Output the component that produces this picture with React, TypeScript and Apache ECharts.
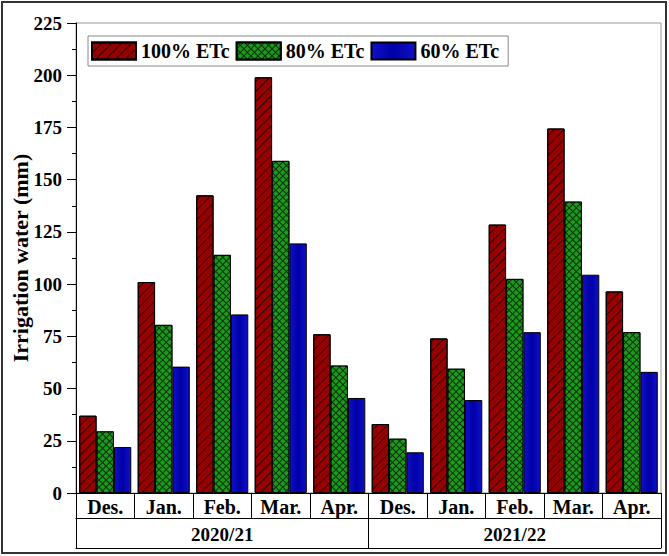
import React, { useEffect, useRef } from "react";
import * as echarts from "echarts";

const months = ["Des.", "Jan.", "Feb.", "Mar.", "Apr.", "Des.", "Jan.", "Feb.", "Mar.", "Apr."];
const seasons = ["2020/21", "2021/22"];
const etc100 = [37, 101, 142.5, 199, 76, 33, 74, 128.5, 174.5, 96.5];
const etc80 = [29.5, 80.5, 114, 159, 61, 26, 59.5, 102.5, 139.5, 77];
const etc60 = [22, 60.5, 85.5, 119.5, 45.5, 19.5, 44.5, 77, 104.5, 58];
const seriesNames = ["100% ETc", "80% ETc", "60% ETc"];

const FONT = "'Liberation Serif', 'Times New Roman', serif";

export default function App() {
  const ref = useRef<HTMLDivElement>(null);
  useEffect(() => {
    if (!ref.current) return;
    const chart = echarts.init(ref.current, null, { renderer: "svg" });
    const labelStyle = { fontFamily: FONT, fontWeight: "bold" as const, fontSize: 19, color: "#000" };
    chart.setOption({
      animation: false,
      backgroundColor: "#fff",
      grid: {
        left: 76,
        right: 8,
        top: 23,
        bottom: 63,
        show: true,
        borderColor: "#999",
        borderWidth: 1,
        containLabel: false,
        outerBoundsMode: "none",
      },
      legend: {
        left: 88,
        top: 36,
        orient: "horizontal",
        itemWidth: 44,
        itemHeight: 17,
        itemGap: 6,
        padding: [5, 9, 5, 3],
        borderColor: "#888",
        borderWidth: 1,
        backgroundColor: "#fff",
        icon: "rect",
        textStyle: { fontFamily: FONT, fontWeight: "bold", fontSize: 20, color: "#000" },
        data: seriesNames,
      },
      xAxis: [
        {
          type: "category",
          data: months,
          position: "bottom",
          axisLine: { show: true, lineStyle: { color: "#000", width: 1 } },
          axisTick: { show: true, length: 25, interval: 0, lineStyle: { color: "#000" } },
          axisLabel: { ...labelStyle, fontSize: 20, margin: 4, interval: 0 },
          splitLine: { show: false },
        },
        {
          type: "category",
          data: seasons,
          position: "bottom",
          offset: 25,
          axisLine: { show: true, lineStyle: { color: "#000", width: 1 } },
          axisTick: { show: true, length: 30, interval: 0, lineStyle: { color: "#000" } },
          axisLabel: { ...labelStyle, margin: 7, interval: 0 },
          splitLine: { show: false },
        },
        {
          type: "category",
          data: [""],
          position: "bottom",
          offset: 55,
          axisLine: { show: true, lineStyle: { color: "#000", width: 1 } },
          axisTick: { show: false },
          axisLabel: { show: false },
          splitLine: { show: false },
        },
      ],
      yAxis: {
        type: "value",
        min: 0,
        max: 225,
        interval: 25,
        name: "Irrigation water (mm)",
        nameLocation: "middle",
        nameGap: 45,
        nameMoveOverlap: false,
        nameTextStyle: { fontFamily: FONT, fontWeight: "bold", fontSize: 22, color: "#000" },
        axisLine: { show: true, lineStyle: { color: "#000", width: 1 } },
        axisTick: { show: true, length: 9, lineStyle: { color: "#000" } },
        minorTick: { show: true, splitNumber: 2, length: 4, lineStyle: { color: "#000" } },
        axisLabel: { ...labelStyle, margin: 14 },
        splitLine: { show: false },
      },
      series: [
        {
          name: seriesNames[0],
          type: "bar",
          data: etc100,
          barGap: "0%",
          barCategoryGap: "11%",
          itemStyle: {
            color: "#960000",
            borderColor: "#000",
            borderWidth: 1,
            decal: {
              symbol: "rect",
              color: "rgba(0,0,0,0.65)",
              dashArrayX: [1, 0],
              dashArrayY: [1, 6],
              rotation: -Math.PI / 4,
            },
          },
        },
        {
          name: seriesNames[1],
          type: "bar",
          data: etc80,
          barGap: "0%",
          barCategoryGap: "11%",
          itemStyle: {
            color: "#0b2e0b",
            borderColor: "#000",
            borderWidth: 1,
            decal: {
              symbol: "rect",
              color: "#1b9a1b",
              dashArrayX: [3.4, 0.9],
              dashArrayY: [3.4, 0.9],
              rotation: Math.PI / 4,
            },
          },
        },
        {
          name: seriesNames[2],
          type: "bar",
          data: etc60,
          barGap: "0%",
          barCategoryGap: "11%",
          itemStyle: {
            color: {
              type: "linear",
              x: 0,
              y: 0,
              x2: 1,
              y2: 0,
              colorStops: [
                { offset: 0, color: "#1010c8" },
                { offset: 0.5, color: "#0000a6" },
                { offset: 1, color: "#1010c8" },
              ],
            },
            borderColor: "#000",
            borderWidth: 1,
          },
        },
      ],
      graphic: [
        {
          type: "rect",
          shape: { x: 2, y: 2, width: 664, height: 551 },
          style: { fill: "none", stroke: "#333", lineWidth: 2 },
          silent: true,
          z: 100,
        },
      ],
    });
    return () => chart.dispose();
  }, []);
  return (
    <div
      ref={ref}
      style={{ position: "fixed", left: 0, top: 0, width: 669, height: 556 }}
    />
  );
}
